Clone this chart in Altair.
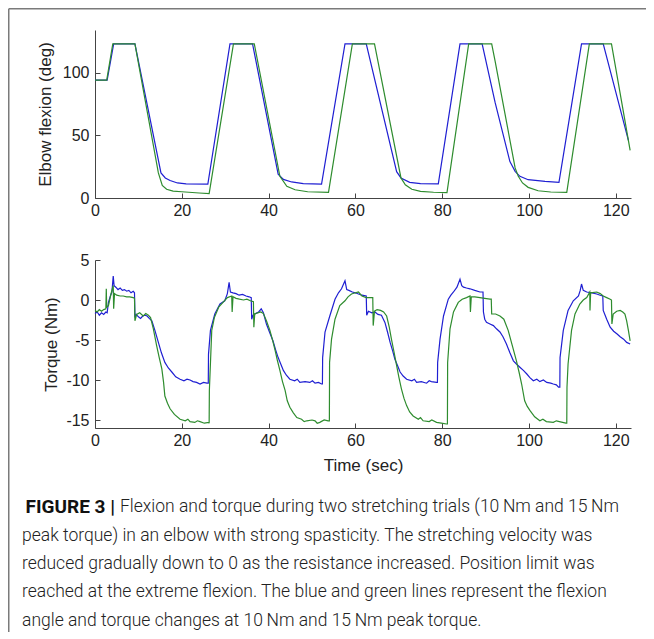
import altair as alt
import pandas as pd

# ---------------- data ----------------
X_TICKS = [0, 20, 40, 60, 80, 100, 120]
FLEX_TICKS = [0, 50, 100]
TORQ_TICKS = [5, 0, -5, -10, -15]

FLEX_BLUE = [
    (0, 94), (2.8, 94), (4.3, 123), (9.2, 123), (15.2, 20), (16.2, 16), (17.3, 14), (19, 12),
    (21, 11.3), (26.0, 11), (31.1, 123), (36.3, 123), (42.2, 19), (43.4, 14.8), (45.3, 12.8),
    (48, 11.5), (52.2, 11.0), (57.6, 123), (62.5, 123), (69.5, 21), (70.5, 16), (72.5, 12.5),
    (75, 11.5), (79.1, 11.2), (84.1, 123), (89.2, 123), (92.2, 76), (95.6, 29), (96.8, 21.3),
    (97.9, 17.3), (99.8, 14.6), (103.7, 13.3), (106.9, 12.5), (112.1, 123), (117.1, 123),
    (122.9, 46),
]
FLEX_GREEN = [
    (0, 94), (2.7, 94), (4.1, 123), (9.2, 123), (14.6, 20), (15.5, 10), (16.5, 7), (18, 5.5),
    (20, 5), (24, 4), (26.3, 3.5), (31.9, 123), (36.7, 123), (42.6, 17.3), (44.2, 9.3),
    (46.1, 6.6), (49, 5), (53.8, 4.5), (59.3, 123), (64.4, 123), (70.5, 16), (71.5, 10.5),
    (73, 7), (75, 5.3), (78, 4.6), (81.1, 4.3), (86.1, 123), (91.4, 123), (92.2, 109),
    (96.8, 24), (97.5, 17.5), (98.5, 12), (99.8, 8.5), (102.1, 5.8), (105, 4.8), (108.7, 4.5),
    (113.9, 123), (119.0, 123), (123.3, 38),
]
TORQ_BLUE = [
    (0, -1.7), (0.5, -1.5), (1.0, -1.9), (1.5, -1.6), (2.0, -1.8), (2.5, -1.5), (2.8, -1.6),
    (3.1, -0.3), (3.6, 0.6), (3.9, 1.0), (4.2, 3.0), (4.4, 1.8), (4.8, 1.6), (5.3, 1.3),
    (5.8, 1.5), (6.3, 1.2), (6.8, 1.3), (7.3, 1.1), (7.8, 1.2), (8.3, 0.9), (8.8, 1.1),
    (9.1, 0.9), (9.2, -2.2), (9.5, -1.8), (10.0, -2.1), (10.5, -2.3), (11.0, -2.0), (11.5, -1.9),
    (12.0, -2.0), (12.5, -2.3), (13.1, -2.6), (13.8, -3.8), (14.6, -5.3), (15.3, -6.6),
    (16.1, -7.8), (16.9, -8.5), (17.7, -9.0), (18.6, -9.6), (19.6, -9.9), (20.5, -10.1),
    (21.2, -9.9), (21.9, -10.0), (22.6, -10.2), (23.4, -10.3), (24.2, -10.5), (25.0, -10.3),
    (25.8, -10.4),
    (26.1, -10.4), (26.15, -6.8), (26.6, -3.8), (27.6, -1.75), (28.8, -0.5), (29.9, -0.1),
    (30.5, 0.8), (30.9, 2.2), (31.2, 1.0), (31.8, 0.9), (32.5, 0.8), (33.2, 0.6), (34.0, 0.7),
    (34.8, 0.5), (35.5, 0.4), (36.0, 0.3), (36.1, -2.4), (36.4, -1.9), (37.0, -1.7),
    (37.7, -1.5), (38.3, -1.1), (38.8, -1.6), (39.5, -3.0), (40.2, -4.0), (41.0, -5.1),
    (41.6, -6.2), (42.2, -7.2), (42.8, -8.0), (43.4, -8.8), (44.1, -9.4), (44.9, -9.9),
    (46.0, -10.1), (46.6, -9.9), (47.2, -10.3), (48.4, -10.2), (49.5, -10.3), (50.1, -10.1),
    (50.7, -10.4), (51.5, -10.3), (52.2, -10.5),
    (52.4, -10.5), (52.45, -7.2), (53.0, -4.0), (54.1, -2.0), (55.3, 0.1),
    (56.1, 0.9), (56.8, 1.4), (57.6, 2.4), (58.0, 1.3), (58.5, 1.2), (59.3, 1.0), (60.0, 0.9),
    (60.7, 0.75), (61.5, 0.6), (62.5, 0.5), (62.6, -1.9), (63.0, -1.4), (63.8, -1.6),
    (64.5, -1.5), (65.2, -1.8), (66.0, -1.9), (66.8, -2.8), (67.4, -4.0), (68.0, -5.3),
    (68.6, -6.4), (69.1, -7.4), (69.7, -8.2), (70.3, -9.0), (71.0, -9.5), (71.8, -9.9),
    (73.0, -10.1), (73.6, -9.9), (74.1, -10.3), (75.2, -10.2), (76.4, -10.4), (77.0, -10.1),
    (77.5, -10.2), (78.7, -10.3),
    (78.9, -10.3), (78.95, -7.8), (79.5, -4.9), (80.3, -2.0), (81.4, 0.1), (82.0, 0.6),
    (82.6, 1.0), (83.4, 1.6), (84.1, 2.6), (84.5, 1.8), (84.9, 1.6), (85.6, 1.5), (86.4, 1.4),
    (87.5, 1.2), (88.7, 1.0), (89.4, 1.0), (89.5, -1.5), (89.8, -2.4), (90.2, -2.8),
    (91.0, -3.0), (91.8, -3.2), (92.5, -3.6), (93.3, -4.0), (94.0, -4.6), (94.8, -5.5),
    (95.6, -6.6), (96.4, -7.6), (97.1, -8.0), (97.9, -8.4), (98.7, -8.8), (99.5, -9.25),
    (100.2, -9.7), (101.0, -10.1), (101.8, -9.9), (102.5, -10.2), (103.3, -10.0),
    (104.1, -10.3), (105.0, -10.4), (105.6, -10.5), (106.3, -10.6), (106.8, -10.9),
    (107.1, -10.9), (107.15, -7.2),
    (107.9, -3.8), (109.0, -1.3), (110.2, -0.1), (111.4, 0.5), (111.8, 1.2), (112.1, 2.0),
    (112.5, 1.2), (113.3, 1.0), (114.5, 0.9), (115.6, 0.75), (116.4, 0.6), (117.0, 0.5),
    (117.1, -1.3), (117.9, -2.4), (118.7, -3.4), (119.5, -3.9), (120.3, -4.25), (121.0, -4.6),
    (121.8, -4.9), (122.5, -5.3), (123.3, -5.5),
]
TORQ_GREEN = [
    (0, -1.3), (0.5, -1.5), (1.0, -1.2), (1.5, -1.4), (2.0, -1.2), (2.5, -1.1), (2.6, 1.4),
    (2.7, -0.9), (3.1, -0.7), (3.5, 0.3), (3.8, 1.0), (4.2, 1.8), (4.3, -1.1), (4.5, 0.8),
    (5.0, 0.6), (5.8, 0.5), (6.5, 0.5), (7.3, 0.4), (8.0, 0.4), (8.8, 0.3), (9.1, 0.2),
    (9.2, -2.6), (9.6, -1.8), (10.3, -1.6), (11.1, -2.0), (11.7, -1.7), (12.3, -1.9),
    (12.8, -2.2), (13.4, -3.5), (14.2, -5.7), (14.8, -7.2), (15.4, -8.6), (15.8, -10.3),
    (16.1, -12.0), (16.7, -12.9), (17.3, -13.6), (18.3, -14.3), (19.6, -14.9), (20.8, -15.1),
    (21.4, -14.9), (21.9, -15.2), (23.0, -15.3), (23.6, -15.1), (24.2, -15.2), (25.2, -15.4),
    (26.2, -15.3), (26.3, -15.4),
    (26.35, -11.3), (26.9, -3.8), (27.5, -2.2), (28.5, -0.9), (29.5, -0.3), (30.5, 0.3),
    (31.5, 0.5), (31.6, -1.5), (31.8, 0.4), (32.5, 0.2), (33.3, 0.1), (34.2, 0.0), (35.0, 0.1),
    (35.8, -0.1), (36.5, -0.2), (36.6, -3.4), (36.8, -1.75), (37.5, -1.6), (38.2, -1.5),
    (38.8, -1.7), (39.5, -2.6), (40.3, -3.8), (41.0, -5.2), (41.5, -6.3), (42.0, -7.5),
    (42.6, -8.8), (43.2, -10.2), (43.8, -11.3), (44.3, -12.6), (44.9, -13.4), (45.7, -14.1),
    (46.5, -14.7), (47.6, -14.9), (48.2, -15.2), (48.8, -15.1), (50.0, -15.0), (50.7, -15.1),
    (51.2, -15.4), (51.8, -15.3), (52.8, -15.0), (53.7, -15.1),
    (54.0, -15.1), (54.05, -7.8), (54.5, -4.9), (55.3, -2.4),
    (56.4, -0.7), (57.6, -0.1), (58.3, 0.4), (59.1, 0.75), (60.0, 0.9), (60.7, 1.0),
    (61.5, 0.5), (62.5, 0.3), (63.5, 0.3), (64.0, 0.3), (64.1, -3.2), (64.4, -1.4),
    (65.0, -1.2), (65.8, -1.3), (66.5, -1.5), (67.2, -2.0), (67.8, -3.4), (68.3, -4.9),
    (68.9, -6.5), (69.5, -8.2), (70.0, -9.6), (70.6, -11.1), (71.2, -12.3), (71.8, -13.2),
    (72.5, -14.0), (73.3, -14.5), (74.5, -14.9), (75.0, -14.7), (75.6, -15.1), (77.0, -15.2),
    (77.6, -15.0), (78.7, -15.3), (79.8, -15.4), (81.0, -15.5),
    (81.2, -15.5), (81.25, -7.8), (81.8, -3.6), (82.6, -1.5),
    (83.7, -0.3), (84.6, 0.1), (85.6, 0.3), (86.4, 0.5), (86.5, -1.5), (86.7, 0.4),
    (87.5, 0.4), (88.7, 0.3), (89.8, 0.2), (91.0, 0.1), (91.3, 0.1), (91.4, -1.75),
    (92.3, -1.75), (93.3, -2.0), (94.2, -2.4), (95.2, -3.8), (96.2, -5.8), (97.1, -7.6),
    (97.7, -9.0), (98.3, -10.5), (99.0, -12.6), (99.6, -13.3), (100.2, -13.8), (101.3, -14.6),
    (102.5, -15.1), (103.2, -14.9), (104.0, -15.2), (105.6, -15.3), (106.3, -15.1),
    (107.0, -15.2), (108.5, -15.4),
    (108.7, -15.4), (108.75, -10.9), (109.0, -8.0), (109.8, -3.8), (110.6, -1.75),
    (111.7, -0.5), (112.5, 0.0), (113.3, 0.3), (114.0, 1.0), (114.05, -1.3), (114.2, 0.9),
    (115.6, 1.0), (116.4, 0.8), (117.1, 0.5), (117.9, 0.3), (118.7, 0.1), (119.0, 0.0),
    (119.1, -3.0), (119.4, -1.75), (120.2, -1.4), (121.0, -1.3), (121.6, -1.5), (122.1, -1.75),
    (122.5, -2.6), (122.9, -3.8), (123.3, -5.1),
]

FLEX_TITLE = "Elbow flexion (deg)"
TORQ_TITLE = "Torque (Nm)"
X_TITLE = "Time (sec)"
CAPTION_BOLD = "FIGURE 3 |"
CAPTION_LINES = [
    "Flexion and torque during two stretching trials (10\u2009Nm and 15\u2009Nm",
    "peak torque) in an elbow with strong spasticity. The stretching velocity was",
    "reduced gradually down to 0 as the resistance increased. Position limit was",
    "reached at the extreme flexion. The blue and green lines represent the flexion",
    "angle and torque changes at 10\u2009Nm and 15\u2009Nm peak torque.",
]

# ---------------- layout / style ----------------
W = 536            # plot width
H = 398            # height covering both panels
PAD = {"left": 87, "top": 22, "right": 15, "bottom": 204}
FLEX_RANGE = [168, 0]
TORQ_RANGE = [398, 230]
BLUE = "#1f1fd2"
GREEN = "#2e8c2e"
AXC = "#444444"
FONT = "Arial"
LABEL_EXPR = "replace(datum.label, '\u2212', '-')"


def df(pairs):
    return pd.DataFrame({"t": [p[0] for p in pairs], "v": [p[1] for p in pairs]})


xscale = alt.Scale(domain=[0, 123.5], nice=False, zero=False)
flex_scale = alt.Scale(domain=[0, 134], range=FLEX_RANGE, nice=False, zero=False)
torq_scale = alt.Scale(domain=[-16, 5], range=TORQ_RANGE, nice=False, zero=False)


def panel(blue, green, yscale, yticks, ytitle, title_x, axis_y, xtitle):
    # blue trace carries the inward, tick-only axes
    b = alt.Chart(df(blue)).mark_line(color=BLUE, strokeWidth=1.2).encode(
        x=alt.X("t:Q", scale=xscale,
                axis=alt.Axis(orient="top", offset=-axis_y, values=X_TICKS, labels=False,
                              domain=False, ticks=True, tickSize=5, tickColor=AXC,
                              grid=False, title=None)),
        y=alt.Y("v:Q", scale=yscale,
                axis=alt.Axis(orient="right", offset=-W, values=yticks, labels=False,
                              domain=False, ticks=True, tickSize=5, tickColor=AXC,
                              grid=False, title=None)),
    )
    xaxis_kw = dict(orient="bottom", offset=-(H - axis_y), values=X_TICKS, labels=True,
                    domain=True, domainColor=AXC, ticks=False, tickSize=0, grid=False,
                    labelFont=FONT, labelFontSize=16, labelColor="#222222", labelPadding=4,
                    labelFlush=False)
    if xtitle:
        xaxis_kw.update(title=xtitle, titleFont=FONT, titleFontSize=17,
                        titleFontWeight="normal", titleColor="#222222",
                        titleBaseline="middle", titleY=37)
    else:
        xaxis_kw.update(title=None)
    g = alt.Chart(df(green)).mark_line(color=GREEN, strokeWidth=1.2).encode(
        x=alt.X("t:Q", scale=xscale, axis=alt.Axis(**xaxis_kw)),
        y=alt.Y("v:Q", scale=yscale,
                axis=alt.Axis(orient="left", values=yticks, labels=True, domain=True,
                              domainColor=AXC, ticks=False, tickSize=0, grid=False,
                              labelFont=FONT, labelFontSize=16, labelColor="#222222",
                              labelPadding=6, labelFlush=False, labelExpr=LABEL_EXPR,
                              title=ytitle, titleFont=FONT, titleFontSize=17,
                              titleFontWeight="normal", titleColor="#222222",
                              titleBaseline="middle", titleX=title_x)),
    )
    return alt.layer(b, g).resolve_axis(x="independent", y="independent")


top = panel(FLEX_BLUE, FLEX_GREEN, flex_scale, FLEX_TICKS, FLEX_TITLE, -50, 168, None)
bottom = panel(TORQ_BLUE, TORQ_GREEN, torq_scale, TORQ_TICKS, TORQ_TITLE, -44, 398, X_TITLE)

# caption
CAP_X = -73
SPLIT_X = CAP_X + 93      # where the bold lead-in ends on line 1
CAP_Y = [477, 505.5, 534, 562, 590.5]
cap_layers = [
    alt.Chart(pd.DataFrame({"s": [CAPTION_BOLD]})).mark_text(
        font="Roboto", fontSize=19, fontWeight="bold", align="right", baseline="middle",
        color="#111111").encode(text="s:N", x=alt.value(SPLIT_X), y=alt.value(CAP_Y[0]))
]
for i, line in enumerate(CAPTION_LINES):
    cap_layers.append(
        alt.Chart(pd.DataFrame({"s": [line]})).mark_text(
            font="Roboto", fontSize=17.5, fontWeight=300, align="left", baseline="middle",
            color="#222222").encode(
            text="s:N", x=alt.value(SPLIT_X + 5 if i == 0 else CAP_X), y=alt.value(CAP_Y[i]))
    )

# figure frame (left and top edges)
frame_left = alt.Chart(pd.DataFrame({"k": [0]})).mark_rule(color="#7a7a7a", strokeWidth=1.5).encode(
    x=alt.value(-PAD["left"] + 0.75), y=alt.value(-PAD["top"] + 0.75), y2=alt.value(H + PAD["bottom"]))
frame_top = alt.Chart(pd.DataFrame({"k": [0]})).mark_rule(color="#7a7a7a", strokeWidth=1.5).encode(
    x=alt.value(-PAD["left"] + 0.75), x2=alt.value(W + PAD["right"]), y=alt.value(-PAD["top"] + 0.75))

chart = alt.layer(top, bottom, *cap_layers, frame_left, frame_top).resolve_scale(
    y="independent").resolve_axis(x="independent", y="independent").properties(
    width=W, height=H, padding=PAD, autosize=alt.AutoSizeParams(type="none"),
    background="white",
).configure_view(strokeWidth=0)

chart.save("out.html", embed_options={"renderer": "svg", "actions": False})
